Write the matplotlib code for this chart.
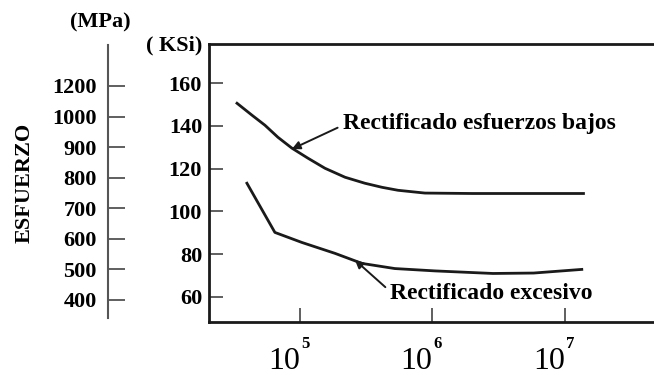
import matplotlib
matplotlib.use("Agg")
import matplotlib.pyplot as plt
from matplotlib.ticker import FixedLocator, NullLocator
import matplotlib.transforms as mtransforms

plt.rcParams["font.family"] = ["Liberation Serif", "DejaVu Serif"]
plt.rcParams["font.weight"] = "bold"

# Curves (cycles, ksi)
low_stress_cycles = [3.35e4, 4.35e4, 5.45e4, 6.82e4, 8.7e4, 1.15e5, 1.545e5, 2.19e5,
                     3.09e5, 4.16e5, 5.5e5, 8.77e5, 2.0e6, 1.38e7]
low_stress_ksi = [150.6, 145.0, 140.3, 134.7, 129.6, 124.9, 120.2, 116.0,
                  113.2, 111.3, 109.9, 108.6, 108.4, 108.4]
excessive_cycles = [3.98e4, 6.47e4, 1.035e5, 1.84e5, 2.94e5, 5.2e5, 1.045e6, 2.86e6, 5.8e6, 1.34e7]
excessive_ksi = [113.2, 90.2, 85.5, 80.4, 75.7, 73.3, 72.2, 71.0, 71.2, 72.9]

ksi_ticks = [60, 80, 100, 120, 140, 160]
mpa_labels = ["400", "500", "600", "700", "800", "900", "1000", "1200"]
x_ticks = [1e5, 1e6, 1e7]
x_exponents = ["5", "6", "7"]

fig = plt.figure(figsize=(6.54, 3.75), dpi=100)

# main axes (ksi)
ax = fig.add_axes([0.3196, 0.1413, 0.6804, 0.7413])
ax.plot(low_stress_cycles, low_stress_ksi, color="#1a1a1a", lw=2)
ax.plot(excessive_cycles, excessive_ksi, color="#1a1a1a", lw=2)
ax.set_xscale("log")
ax.set_xlim(2.06e4, 4.7e7)
ax.set_ylim(48.3, 178.3)
ax.xaxis.set_major_locator(FixedLocator(x_ticks))
ax.xaxis.set_minor_locator(NullLocator())
ax.set_xticklabels(["10"] * len(x_ticks), fontsize=23, fontweight="normal", ha="right")
ax.set_yticks(ksi_ticks)
ax.set_yticklabels([str(v) for v in ksi_ticks], fontsize=16)
ax.tick_params(axis="both", direction="in", length=10, width=1.2, color="#444444")
ax.tick_params(axis="y", pad=5)
ax.tick_params(axis="x", pad=18)
ax.spines["right"].set_visible(False)
for s in ["left", "top", "bottom"]:
    ax.spines[s].set_linewidth(2)
    ax.spines[s].set_color("#1a1a1a")

trans = mtransforms.blended_transform_factory(ax.transData, ax.transAxes)
for xt, ex in zip(x_ticks, x_exponents):
    ax.text(xt * 1.02, -0.052, ex, transform=trans, fontsize=12, ha="left", va="top")

ax.annotate("Rectificado esfuerzos bajos", xy=(8.7e4, 129.2), xytext=(2.11e5, 141.3),
            fontsize=17, va="center", ha="left",
            arrowprops=dict(arrowstyle="-|>", lw=1.4, color="#1a1a1a", mutation_scale=12,
                            shrinkA=2, shrinkB=0, relpos=(0, 0.4)))
ax.annotate("Rectificado excesivo", xy=(2.6e5, 77.3), xytext=(4.8e5, 61.6),
            fontsize=17, va="center", ha="left",
            arrowprops=dict(arrowstyle="-|>", lw=1.4, color="#1a1a1a", mutation_scale=12,
                            shrinkA=2, shrinkB=0, relpos=(0, 0.6)))

fig.text(174 / 654, 1 - 45 / 375, "( KSi)", fontsize=16, ha="center", va="center")

# MPa scale (hand-drawn, evenly spaced marks)
ax2 = fig.add_axes([108 / 654, 1 - 318 / 375, 0.05, (318 - 45) / 375])
ax2.set_ylim(-0.59, 8.34)
ax2.set_xticks([])
ax2.set_yticks(range(len(mpa_labels)))
ax2.set_yticklabels(mpa_labels, fontsize=16)
ax2.tick_params(axis="y", direction="in", length=12, width=1.2, pad=8, color="#444444")
for s in ["right", "top", "bottom"]:
    ax2.spines[s].set_visible(False)
ax2.spines["left"].set_linewidth(1.5)
ax2.spines["left"].set_color("#555555")
ax2.patch.set_visible(False)

fig.text(100 / 654, 1 - 22 / 375, "(MPa)", fontsize=16, ha="center", va="center")
fig.text(25 / 654, 1 - 183 / 375, "ESFUERZO", fontsize=16, rotation=90, ha="center", va="center")

fig.savefig("out.png", dpi=100)
